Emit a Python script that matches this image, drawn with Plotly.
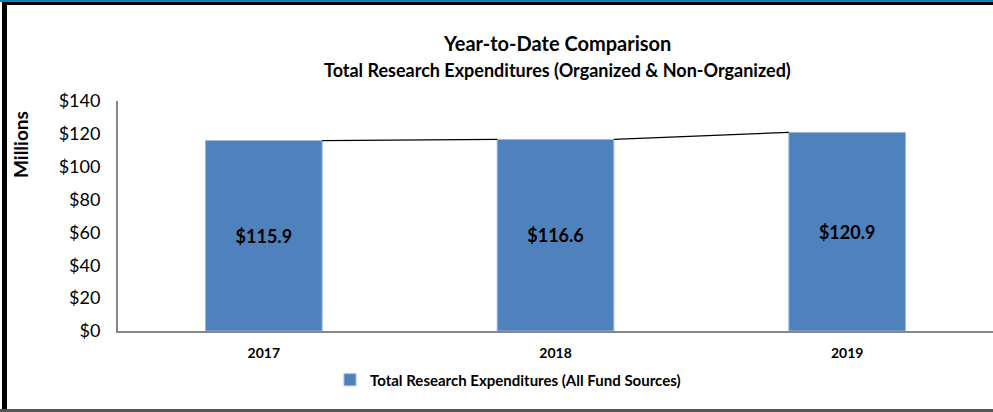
import plotly.graph_objects as go

years = ["2017", "2018", "2019"]
values = [115.9, 116.6, 120.9]
labels = ["$115.9", "$116.6", "$120.9"]
series_name = "Total Research Expenditures (All Fund Sources)"
yticks = [0, 20, 40, 60, 80, 100, 120, 140]
yticktext = ["$" + str(v) for v in yticks]

W, H = 993, 412
L, R, T, B = 118, 0, 101, 81
pw, ph = W - L - R, H - T - B


def px(x):
    return (x - L) / pw


def py(y):
    return (H - B - y) / ph


FONT = "Lato, Carlito, 'Open Sans', sans-serif"
BAR_W = 0.4
xs = list(range(len(years)))

fig = go.Figure()
fig.add_trace(go.Bar(
    x=xs, y=values, width=BAR_W, name=series_name,
    marker=dict(color="#4F81BD", line=dict(color="#9DB9DE", width=1)),
    text=labels, textposition="inside", insidetextanchor="middle",
    textfont=dict(family=FONT, size=18, color="black", weight="bold"),
    showlegend=True,
))
for i in range(len(values) - 1):
    fig.add_trace(go.Scatter(
        x=[xs[i] + BAR_W / 2, xs[i + 1] - BAR_W / 2],
        y=[values[i], values[i + 1]],
        mode="lines", line=dict(color="black", width=1.3),
        showlegend=False, hoverinfo="skip",
    ))

shapes = [
    dict(type="rect", xref="paper", yref="paper", x0=px(0), x1=px(W), y0=py(0), y1=py(2),
         fillcolor="#1A7DB8", line_width=0, layer="above"),
    dict(type="rect", xref="paper", yref="paper", x0=px(2), x1=px(W), y0=py(2), y1=py(5),
         fillcolor="black", line_width=0, layer="above"),
    dict(type="rect", xref="paper", yref="paper", x0=px(2), x1=px(7), y0=py(2), y1=py(410),
         fillcolor="black", line_width=0, layer="above"),
    dict(type="rect", xref="paper", yref="paper", x0=px(0), x1=px(W), y0=py(409), y1=py(412),
         fillcolor="#555555", line_width=0, layer="above"),
]

fig.update_layout(
    width=W, height=H,
    margin=dict(l=L, r=R, t=T, b=B, autoexpand=False),
    paper_bgcolor="white", plot_bgcolor="white",
    font=dict(family=FONT, color="black"),
    showlegend=True,
    legend=dict(orientation="h", x=px(508), xanchor="center", y=py(380), yanchor="middle",
                font=dict(family=FONT, size=15, color="black", weight="bold"),
                itemwidth=30, bgcolor="rgba(0,0,0,0)"),
    xaxis=dict(range=[-0.5, len(years) - 0.5], tickvals=xs, ticktext=years,
               tickfont=dict(family=FONT, size=14, color="black", weight="bold"),
               ticklabelstandoff=8,
               showline=True, linecolor="#868686", linewidth=2, showgrid=False,
               ticks="", zeroline=False, fixedrange=True, automargin=False),
    yaxis=dict(range=[0, 140], tickvals=yticks, ticktext=yticktext,
               tickfont=dict(family=FONT, size=18, color="black"),
               ticklabelstandoff=12,
               showline=True, linecolor="#868686", linewidth=2, showgrid=False,
               ticks="", zeroline=False, fixedrange=True, automargin=False),
    shapes=shapes,
    annotations=[
        dict(text="<b>Year-to-Date Comparison</b>", xref="paper", yref="paper",
             x=px(557), y=py(43), xanchor="center", yanchor="middle", showarrow=False,
             font=dict(family=FONT, size=20, color="black")),
        dict(text="<b>Total Research Expenditures (Organized & Non-Organized)</b>", xref="paper",
             yref="paper", x=px(557), y=py(70), xanchor="center", yanchor="middle",
             showarrow=False, font=dict(family=FONT, size=18, color="black")),
        dict(text="<b>Millions</b>", xref="paper", yref="paper", x=px(20), y=py(145),
             xanchor="center", yanchor="middle", textangle=-90, showarrow=False,
             font=dict(family=FONT, size=19, color="black")),
    ],
)

fig.write_html("out.html", config={"displayModeBar": False},
               post_script="document.body.style.margin='0';document.body.style.padding='0';"
                           "document.body.style.overflow='hidden';")
